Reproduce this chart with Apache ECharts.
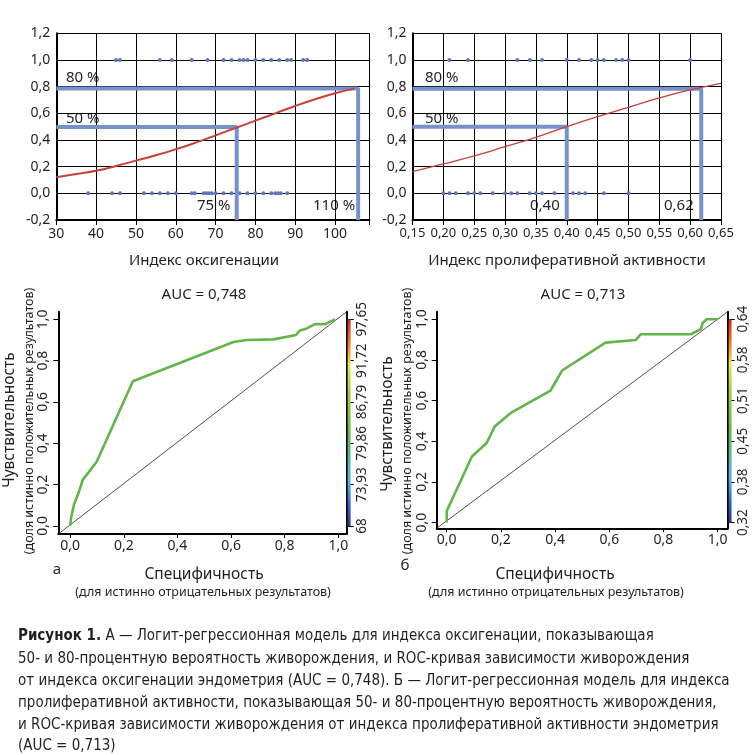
<!DOCTYPE html>
<html><head><meta charset="utf-8">
<script src="https://cdn.jsdelivr.net/npm/echarts@6/dist/echarts.min.js"></script>
<style>html,body{margin:0;padding:0;background:#fff}#c{width:755px;height:755px}</style>
</head><body><div id="c"></div><script>
// ---------- data ----------
const oxyLive = [45,46,56,59,64,68,72,74,76,77,78,80,82,84,86,88,89,92,93];
const oxyDead = [38,44,46,52,54,56,58,60,64,64.8,67,67.7,68.3,69,70,72,74,76,78,80,82,84,85,85.7,86.4,88];
const oxyCurveX = [30,35,40,45,50,55,60,65,70,75,80,85,90,95,100,104.8];
const oxyCurveY = [0.12,0.145,0.17,0.205,0.245,0.285,0.33,0.38,0.435,0.49,0.545,0.6,0.655,0.705,0.75,0.785];
const oxyRef80 = [[30,0.787],[105.8,0.787],[105.8,-0.2]];
const oxyRef50 = [[30,0.497],[75.3,0.497],[75.3,-0.2]];

const proLive = [0.21,0.24,0.32,0.34,0.36,0.40,0.42,0.44,0.45,0.46,0.48,0.49,0.50,0.60];
const proDead = [0.20,0.21,0.22,0.24,0.25,0.26,0.28,0.30,0.31,0.32,0.34,0.35,0.36,0.38,0.41,0.42,0.43,0.46,0.50];
const proCurveX = [0.15,0.20,0.25,0.30,0.35,0.40,0.45,0.50,0.55,0.60,0.65];
const proCurveY = [0.163,0.22,0.28,0.35,0.42,0.5,0.575,0.645,0.715,0.775,0.825];
const proRef80 = [[0.15,0.785],[0.618,0.785],[0.618,-0.2]];
const proRef50 = [[0.15,0.5],[0.40,0.5],[0.40,-0.2]];

const rocOxySpec = [0,0.004,0.015,0.031,0.047,0.068,0.099,0.234,0.609,0.658,0.758,0.842,0.855,0.882,0.913,0.95,0.969,0.988];
const rocOxySens = [0,0.042,0.106,0.158,0.223,0.258,0.311,0.70,0.89,0.90,0.903,0.924,0.945,0.956,0.977,0.976,0.989,1.0];
const rocProSpec = [0,0,0.093,0.148,0.177,0.235,0.383,0.426,0.586,0.698,0.716,0.901,0.938,0.944,0.959,1.0];
const rocProSens = [0,0.057,0.325,0.393,0.472,0.538,0.649,0.748,0.885,0.898,0.926,0.926,0.951,0.98,1.0,1.0];

const rocTicks = [0,0.2,0.4,0.6,0.8,1.0];
const cbOxyLabels = ['68','73,93','79,86','86,79','91,72','97,65'];
const cbProLabels = ['0,32','0,38','0,45','0,51','0,58','0,64'];

// ---------- styles ----------
const FONT = '"Noto Sans", "Open Sans", sans-serif';
const TXT = '#231f20';
const BLUE = '#7792cb';
const RED = '#c7403a';
const GREEN = '#62b548';
const DOT = '#5f76bb';
const comma = (v, d) => v.toFixed(d).replace('.', ',');

const topGridBase = {top: 33.3, height: 186.7, outerBoundsMode: 'none', containLabel: false};
function topX(i, min, max, interval, fmt, fs) {
  return {gridIndex: i, type: 'value', min, max, interval,
    axisLine: {show: true, onZero: false, lineStyle: {color: '#000', width: 2}},
    axisTick: {show: true, length: 5, lineStyle: {color: '#000'}},
    splitLine: {show: true, lineStyle: {color: '#000', width: 1}},
    axisLabel: {color: TXT, fontFamily: FONT, fontSize: fs, margin: 7, formatter: fmt}};
}
function topY(i) {
  return {gridIndex: i, type: 'value', min: -0.2, max: 1.2, interval: 0.2,
    axisLine: {show: true, onZero: false, lineStyle: {color: '#000', width: 2}},
    axisTick: {show: false},
    splitLine: {show: true, lineStyle: {color: '#000', width: 1}},
    axisLabel: {color: TXT, fontFamily: FONT, fontSize: 14, margin: 6, formatter: v => comma(v, 1)}};
}
function rocX(i, min, max) {
  return {gridIndex: i, type: 'value', min, max,
    axisLine: {show: true, onZero: false, lineStyle: {color: '#000', width: 2}},
    axisTick: {show: true, length: 4, customValues: rocTicks, lineStyle: {color: '#000'}},
    splitLine: {show: false},
    axisLabel: {color: TXT, fontFamily: FONT, fontSize: 14, margin: 5, customValues: rocTicks, formatter: v => comma(v, 1)}};
}
function rocY(i, min, max) {
  return {gridIndex: i, type: 'value', min, max,
    axisLine: {show: true, onZero: false, lineStyle: {color: '#000', width: 2}},
    axisTick: {show: true, length: 5, customValues: rocTicks, lineStyle: {color: '#000'}},
    splitLine: {show: false},
    axisLabel: {color: TXT, fontFamily: FONT, fontSize: 14, margin: 8, rotate: 90, customValues: rocTicks, formatter: v => comma(v, 1)}};
}
function cbY(i, min, max, labels) {
  return {gridIndex: i, type: 'value', position: 'right', min, max,
    axisLine: {show: true, onZero: false, lineStyle: {color: '#000', width: 2}},
    axisTick: {show: true, length: 7, customValues: rocTicks, lineStyle: {color: '#000'}},
    splitLine: {show: false},
    axisLabel: {color: TXT, fontFamily: FONT, fontSize: 13.5, margin: 8, rotate: 90, customValues: rocTicks,
      formatter: v => labels[Math.round(v * 5)]}};
}
function line(xi, yi, data, color, width, smooth) {
  return {type: 'line', xAxisIndex: xi, yAxisIndex: yi, data, symbol: 'none', smooth: !!smooth,
    lineStyle: {color, width}, silent: true};
}
function dots(xi, yi, data) {
  return {type: 'scatter', xAxisIndex: xi, yAxisIndex: yi, data, symbolSize: 4,
    itemStyle: {color: DOT, opacity: 1}, silent: true};
}
const zip = (a, b) => a.map((v, k) => [v, b[k]]);

const cbGrad = new echarts.graphic.LinearGradient(0, 0, 0, 1, [
  {offset: 0, color: '#d7262a'}, {offset: 0.12, color: '#ef7a2c'}, {offset: 0.22, color: '#f3e64a'},
  {offset: 0.35, color: '#a6cd45'}, {offset: 0.55, color: '#6cb847'}, {offset: 0.68, color: '#58b6a8'},
  {offset: 0.78, color: '#55b8e6'}, {offset: 0.9, color: '#3566b3'}, {offset: 1, color: '#2a3b93'}]);

function txt(text, x, y, size, align, extra) {
  return Object.assign({type: 'text', x, y, style: {text, font: size + 'px ' + FONT, fill: TXT,
    textAlign: align || 'center', textVerticalAlign: 'middle'}}, extra || {});
}
function vtxt(text, x, y, size) {
  return {type: 'text', x, y, rotation: Math.PI / 2, style: {text, font: size + 'px ' + FONT, fill: TXT,
    textAlign: 'center', textVerticalAlign: 'middle'}};
}
const CAP = '"Liberation Sans Narrow", "DejaVu Sans Condensed", sans-serif';
const captionLines = [
  'Логит-регрессионная модель для индекса оксигенации, показывающая',
  '50- и 80-процентную вероятность живорождения, и ROC-кривая зависимости живорождения',
  'от индекса оксигенации эндометрия (AUC = 0,748). Б — Логит-регрессионная модель для индекса',
  'пролиферативной активности, показывающая 50- и 80-процентную вероятность живорождения,',
  'и ROC-кривая зависимости живорождения от индекса пролиферативной активности эндометрия',
  '(AUC = 0,713)'
];
const capY = [636, 659, 681, 703, 725, 746];
const capGraphics = captionLines.map((t, k) => ({type: 'text', x: 18, y: capY[k], style: {
  text: k === 0 ? '{b|Рисунок 1.} А — ' + t : t,
  font: '15px ' + CAP, fill: TXT, textVerticalAlign: 'middle',
  rich: {b: {fontFamily: CAP, fontWeight: 'bold', fontSize: 15, fill: TXT}}}}));

const option = {
  animation: false,
  backgroundColor: '#fff',
  grid: [
    Object.assign({left: 56.3, width: 313}, topGridBase),
    Object.assign({left: 412.5, width: 308.5}, topGridBase),
    {left: 58.3, top: 311.7, width: 288.4, height: 222.3, outerBoundsMode: 'none', containLabel: false},
    {left: 436.7, top: 311.7, width: 291, height: 216.6, outerBoundsMode: 'none', containLabel: false}
  ],
  xAxis: [
    topX(0, 30, 108.6, 10, v => (Math.abs(v % 10) < 1e-6 ? String(v) : ''), 14),
    topX(1, 0.15, 0.65, 0.05, v => comma(v, 2), 13),
    rocX(2, -0.044, 1.031),
    rocX(3, -0.037, 1.037)
  ],
  yAxis: [
    topY(0), topY(1),
    rocY(2, -0.039, 1.037),
    rocY(3, -0.028, 1.037),
    cbY(2, -0.039, 1.037, cbOxyLabels),
    cbY(3, -0.028, 1.037, cbProLabels)
  ],
  series: [
    dots(0, 0, oxyLive.map(v => [v, 1])),
    dots(0, 0, oxyDead.map(v => [v, 0])),
    line(0, 0, oxyRef80, BLUE, 4),
    line(0, 0, oxyRef50, BLUE, 4),
    line(0, 0, zip(oxyCurveX, oxyCurveY), RED, 2, true),
    dots(1, 1, proLive.map(v => [v, 1])),
    dots(1, 1, proDead.map(v => [v, 0])),
    line(1, 1, proRef80, BLUE, 4),
    line(1, 1, proRef50, BLUE, 4),
    line(1, 1, zip(proCurveX, proCurveY), RED, 1.3, true),
    line(2, 2, [[-0.044, -0.039], [1.031, 1.037]], '#222', 0.8),
    line(2, 2, zip(rocOxySpec, rocOxySens), GREEN, 2.6),
    line(3, 3, [[-0.037, -0.028], [1.037, 1.037]], '#222', 0.8),
    line(3, 3, zip(rocProSpec, rocProSens), GREEN, 2.6)
  ],
  graphic: [
    // top panel annotations
    txt('80 %', 66, 78, 15, 'left'), txt('50 %', 66, 119, 15, 'left'),
    txt('75 %', 197, 206, 15, 'left'), txt('110 %', 313, 206, 15, 'left'),
    txt('80 %', 425, 78, 15, 'left'), txt('50 %', 425, 119, 15, 'left'),
    txt('0,40', 530, 206, 15, 'left'), txt('0,62', 664, 206, 15, 'left'),
    txt('Индекс оксигенации', 204, 261, 15),
    txt('Индекс пролиферативной активности', 567, 261, 15),
    // ROC titles
    txt('AUC = 0,748', 204, 295, 15), txt('AUC = 0,713', 583, 295, 15),
    vtxt('Чувствительность', 10, 420, 15.5), vtxt('(доля истинно положительных результатов)', 29, 421, 12.5),
    vtxt('Чувствительность', 388, 424, 15.5), vtxt('(доля истинно положительных результатов)', 407, 421, 12.5),
    txt('Специфичность', 204, 575, 15.5), txt('(для истинно отрицательных результатов)', 203, 592, 12.5),
    txt('Специфичность', 555, 575, 15.5), txt('(для истинно отрицательных результатов)', 556, 592, 12.5),
    txt('а', 57, 570, 15), txt('б', 405, 566, 15),
    // colour bars
    {type: 'rect', z: 100, shape: {x: 347.6, y: 319.3, width: 3, height: 206.7}, style: {fill: cbGrad}},
    {type: 'rect', z: 100, shape: {x: 728.6, y: 319.3, width: 3, height: 203.4}, style: {fill: cbGrad}}
  ].concat(capGraphics)
};
const chart = echarts.init(document.getElementById('c'), null, {renderer: 'canvas'});
chart.setOption(option);
</script></body></html>
